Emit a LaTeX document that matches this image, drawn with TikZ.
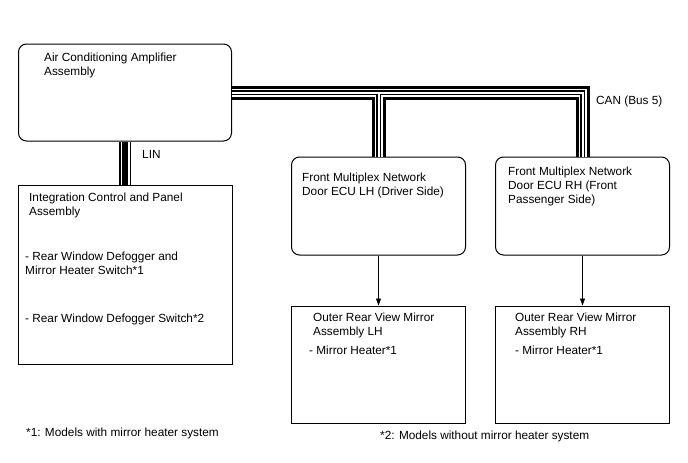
\documentclass[tikz,border=0pt]{standalone}
\usepackage{fontspec}
\setmainfont{Liberation Sans}
\usepackage{tikz}
\usetikzlibrary{arrows.meta}

\tikzset{
    unitbox/.style={draw, line width=1pt, inner sep=0pt, fill=white},
    roundunit/.style={unitbox, rounded corners=8pt},
    boxtext/.style={anchor=north west, inner sep=0pt, align=left, font=\fontsize{11.8}{14}\selectfont},
    feed/.style={-{Triangle[length=7pt,width=5pt]}, line width=0.6pt},
}

\begin{document}
\begin{tikzpicture}[x=1pt,y=-1pt]
                    \useasboundingbox (0,0) rectangle (688,463);

                    % units
                    \node[roundunit, minimum width=213pt, minimum height=97pt] (ac) at (125,92.5) {};
                    \node[unitbox, minimum width=214pt, minimum height=179pt] (icp) at (125,274.5) {};
                    \node[roundunit, minimum width=174pt, minimum height=98pt] (ecuL) at (378.5,206) {};
                    \node[roundunit, minimum width=174pt, minimum height=98pt] (ecuR) at (582.5,206) {};
                    \node[unitbox, minimum width=174pt, minimum height=117pt] (mirL) at (378.5,364.5) {};
                    \node[unitbox, minimum width=174pt, minimum height=117pt] (mirR) at (582.5,364.5) {};

                    % CAN and LIN wires
                    \foreach \w/\c in {14/black,8/white,5/black,2/white}{
                        \draw[line width=\w pt, \c] (ac.east) -- (ecuR.north |- ac.east) -- (ecuR.north);
                        \draw[line width=\w pt, \c] (ecuL.north |- ac.east) -- (ecuL.north);
                    }
                    \foreach \w/\c in {12/black,9/white,6/black}{
                        \draw[line width=\w pt, \c] (ac.south) -- (icp.north);
                    }

                    \draw[feed] (ecuL.south) -- (mirL.north);
                    \draw[feed] (ecuR.south) -- (mirR.north);

                    % texts
                    \node[boxtext] (acText) at (44,53) {Air Conditioning Amplifier\\Assembly};
                    \node[boxtext] (icpText) at (29,193) {Integration Control and Panel\\Assembly};
                    \node[boxtext] (swOne) at (25,252) {- Rear Window Defogger and\\Mirror Heater Switch*1};
                    \node[boxtext] (swTwo) at (25,314) {- Rear Window Defogger Switch*2};
                    \node[boxtext] (ecuLText) at (302,173) {Front Multiplex Network\\Door ECU LH (Driver Side)};
                    \node[boxtext] (ecuRText) at (508,167) {Front Multiplex Network\\Door ECU RH (Front\\Passenger Side)};
                    \node[boxtext] (mirLText) at (313,313) {Outer Rear View Mirror\\Assembly LH};
                    \node[boxtext] (mirLHeat) at (309,346) {- Mirror Heater*1};
                    \node[boxtext] (mirRText) at (515,313) {Outer Rear View Mirror\\Assembly RH};
                    \node[boxtext] (mirRHeat) at (515,346) {- Mirror Heater*1};

                    \node[boxtext] (lin) at (142,150) {LIN};
                    \node[boxtext] (can) at (596,96) {CAN (Bus 5)};

                    \node[boxtext] (noteOne) at (26,428) {*1: Models with mirror heater system};
                    \node[boxtext] (noteTwo) at (380,431) {*2: Models without mirror heater system};
                \end{tikzpicture}
\end{document}
